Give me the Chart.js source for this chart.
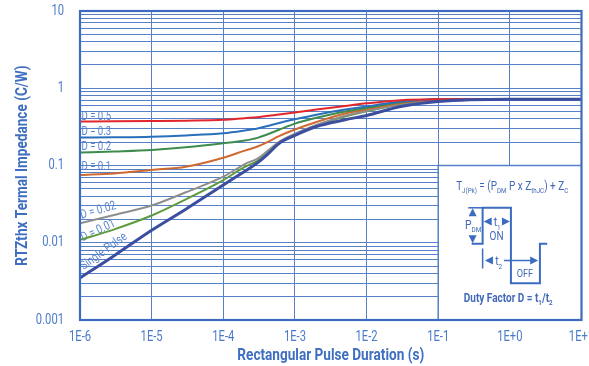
<!DOCTYPE html>
<html><head><meta charset="utf-8">
<script src="https://cdn.jsdelivr.net/npm/chart.js@4.4.0/dist/chart.umd.min.js"></script>
<style>html,body{margin:0;padding:0;background:#fff}</style>
</head><body>
<canvas id="c" width="589" height="366"></canvas>
<script>
// ---- data ----
const pulseDuration = [1e-6, 3e-6, 1e-5, 3e-5, 1e-4, 2e-4, 3e-4, 4e-4, 6e-4, 1e-3, 2e-3, 5e-3, 1e-2, 3e-2, 1e-1, 1, 10];
const seriesNames = ['D = 0.5', 'D = 0.3', 'D = 0.2', 'D = 0.1', 'D = 0.02', 'D = 0.01', 'Single Pulse'];
const d05    = [0.372, 0.373, 0.376, 0.380, 0.390, 0.410, 0.422, 0.437, 0.457, 0.485, 0.530, 0.590, 0.638, 0.700, 0.720, 0.725, 0.725];
const d03    = [0.230, 0.232, 0.236, 0.245, 0.261, 0.284, 0.302, 0.322, 0.355, 0.396, 0.455, 0.530, 0.580, 0.675, 0.720, 0.725, 0.725];
const d02    = [0.147, 0.152, 0.159, 0.172, 0.194, 0.211, 0.228, 0.250, 0.290, 0.348, 0.415, 0.500, 0.555, 0.660, 0.718, 0.725, 0.725];
const d01    = [0.0753, 0.079, 0.0875, 0.0964, 0.126, 0.156, 0.176, 0.198, 0.240, 0.292, 0.365, 0.470, 0.535, 0.645, 0.715, 0.725, 0.725];
const d002   = [0.0179, 0.0229, 0.0303, 0.045, 0.0716, 0.1045, 0.123, 0.150, 0.203, 0.258, 0.335, 0.440, 0.510, 0.620, 0.710, 0.725, 0.725];
const d001   = [0.0109, 0.0149, 0.0225, 0.0365, 0.0648, 0.0957, 0.115, 0.142, 0.198, 0.253, 0.330, 0.430, 0.505, 0.615, 0.710, 0.725, 0.725];
const single = [0.0035, 0.0068, 0.0145, 0.0272, 0.056, 0.0845, 0.108, 0.135, 0.193, 0.246, 0.320, 0.390, 0.445, 0.580, 0.675, 0.722, 0.722];
const xTickValues = [1e-6, 1e-5, 1e-4, 1e-3, 1e-2, 1e-1, 1, 10];
const xTickLabels = ['1E-6', '1E-5', '1E-4', '1E-3', '1E-2', '1E-1', '1E+0', '1E+1'];
const yTickValues = [0.001, 0.01, 0.1, 1, 10];
const yTickLabels = ['0.001', '0.01', '0.1', '1', '10'];

const FONT = "Roboto, 'Liberation Sans', sans-serif";
const K = 0.8; // horizontal text compression (reference uses a condensed typeface)

const TXT = '#4a7bc8';
const GRID = '#5680c8';
const colors = ['#e3262c', '#2a6fbb', '#3d8b4d', '#d0692f', '#8e8e8e', '#5d9b3c', '#3c4ea0'];
const widths = [2, 2, 2, 2, 2, 2, 3];
const allSeries = [d05, d03, d02, d01, d002, d001, single];

const datasets = allSeries.map((arr, i) => ({
  label: seriesNames[i],
  data: arr.map((v, j) => ({x: pulseDuration[j], y: v})),
  borderColor: colors[i],
  borderWidth: widths[i],
  pointRadius: 0,
  fill: false,
  cubicInterpolationMode: 'monotone',
  order: i === 6 ? 0 : i + 1
}));

// condensed text rendering on the chart canvas
const canvas = document.getElementById('c');
const cctx = canvas.getContext('2d');
const origFill = cctx.fillText.bind(cctx);
cctx.fillText = function (t, x, y) {
  this.save(); this.translate(x, y); this.scale(K, 1); origFill(t, 0, 0); this.restore();
};

function sameVal(a, b) { return Math.abs(Math.log10(a) - Math.log10(b)) < 1e-6; }
function fnt(size, bold) { return (bold ? 'bold ' : '') + size + 'px ' + FONT; }

function drawRich(ctx, parts, cx, baseY, size, bold, color) {
  let total = 0;
  parts.forEach(p => { ctx.font = fnt(p[1] ? size * 0.62 : size, bold); total += ctx.measureText(p[0]).width * K; });
  let x = cx - total / 2;
  ctx.fillStyle = color; ctx.textAlign = 'left'; ctx.textBaseline = 'alphabetic';
  parts.forEach(p => {
    ctx.font = fnt(p[1] ? size * 0.62 : size, bold);
    ctx.fillText(p[0], x, baseY + (p[1] ? size * 0.28 : 0));
    x += ctx.measureText(p[0]).width * K;
  });
}
function tri(ctx, ax, ay, dir, len, half) {
  ctx.beginPath();
  if (dir === 'up') { ctx.moveTo(ax, ay); ctx.lineTo(ax - half, ay + len); ctx.lineTo(ax + half, ay + len); }
  if (dir === 'down') { ctx.moveTo(ax, ay); ctx.lineTo(ax - half, ay - len); ctx.lineTo(ax + half, ay - len); }
  if (dir === 'left') { ctx.moveTo(ax, ay); ctx.lineTo(ax + len, ay - half); ctx.lineTo(ax + len, ay + half); }
  if (dir === 'right') { ctx.moveTo(ax, ay); ctx.lineTo(ax - len, ay - half); ctx.lineTo(ax - len, ay + half); }
  ctx.closePath(); ctx.fill();
}

const curveLabelPos = [
  {x: 1.05e-6, y: 0.43, rot: 0, align: 'left', size: 12},
  {x: 1.05e-6, y: 0.27, rot: 0, align: 'left', size: 12},
  {x: 1.05e-6, y: 0.175, rot: 0, align: 'left', size: 12},
  {x: 1.05e-6, y: 0.095, rot: 0, align: 'left', size: 12},
  {x: 1.8e-6, y: 0.026, rot: -16, align: 'center', size: 12.5},
  {x: 1.8e-6, y: 0.0143, rot: -25, align: 'center', size: 12.5},
  {x: 2.15e-6, y: 0.0077, rot: -36, align: 'center', size: 12.5}
];

const decor = {
  id: 'decor',
  beforeDraw(chart) {
    const ctx = chart.ctx, xs = chart.scales.x, ys = chart.scales.y;
    ctx.save();
    ctx.fillStyle = '#5b86cc';
    ctx.textBaseline = 'middle';
    curveLabelPos.forEach((p, i) => {
      const px = xs.getPixelForValue(p.x), py = ys.getPixelForValue(p.y);
      ctx.save();
      ctx.font = fnt(p.size, false);
      ctx.translate(px, py);
      ctx.rotate(p.rot * Math.PI / 180);
      ctx.textAlign = p.align;
      ctx.fillText(seriesNames[i], 0, 0);
      ctx.restore();
    });
    ctx.restore();
  },
  beforeDatasetsDraw(chart) {
    const ctx = chart.ctx, xs = chart.scales.x, ys = chart.scales.y, ca = chart.chartArea;
    const L = xs.getPixelForValue(0.1), T = ys.getPixelForValue(0.1);
    ctx.save();
    ctx.fillStyle = '#fff';
    ctx.fillRect(L, T, ca.right - L, ca.bottom - T);
    ctx.strokeStyle = GRID; ctx.lineWidth = 1.5;
    ctx.beginPath(); ctx.moveTo(L, ca.bottom); ctx.lineTo(L, T); ctx.lineTo(ca.right, T); ctx.stroke();
    const C = '#4169b8';
    drawRich(ctx, [['T'], ['J(Pk)', 1], [' = (P'], ['DM', 1], [' P x Z'], ['thJC', 1], [') + Z'], ['C', 1]], L + 74, T + 24, 12.5, false, C);
    ctx.strokeStyle = '#3a6cc0'; ctx.lineWidth = 2;
    ctx.beginPath();
    ctx.moveTo(L + 33.4, T + 78.3); ctx.lineTo(L + 44.4, T + 78.3); ctx.lineTo(L + 44.4, T + 42.3);
    ctx.lineTo(L + 72.7, T + 42.3); ctx.lineTo(L + 72.7, T + 117.7); ctx.lineTo(L + 101.7, T + 117.7);
    ctx.lineTo(L + 101.7, T + 78.3); ctx.lineTo(L + 109, T + 78.3);
    ctx.stroke();
    ctx.fillStyle = '#3a6cc0'; ctx.lineWidth = 1.5;
    ctx.beginPath(); ctx.moveTo(L + 30, T + 42.3); ctx.lineTo(L + 44.4, T + 42.3); ctx.stroke();
    tri(ctx, L + 34.4, T + 42.8, 'up', 8, 4);
    tri(ctx, L + 34.4, T + 77.8, 'down', 8, 4);
    drawRich(ctx, [['P'], ['DM', 1]], L + 35, T + 63, 13, false, C);
    ctx.fillStyle = '#3a6cc0';
    tri(ctx, L + 45.5, T + 56, 'left', 8, 4);
    tri(ctx, L + 71.7, T + 56, 'right', 8, 4);
    drawRich(ctx, [['t'], ['1', 1]], L + 59, T + 60.5, 13, false, C);
    ctx.font = fnt(12.5, false); ctx.fillStyle = C; ctx.textAlign = 'center'; ctx.textBaseline = 'middle';
    ctx.fillText('ON', L + 58.4, T + 71.5);
    ctx.strokeStyle = '#3a6cc0'; ctx.lineWidth = 1.5; ctx.fillStyle = '#3a6cc0';
    ctx.beginPath(); ctx.moveTo(L + 44.4, T + 83); ctx.lineTo(L + 44.4, T + 103); ctx.stroke();
    tri(ctx, L + 46.7, T + 95, 'left', 8, 4);
    ctx.beginPath(); ctx.moveTo(L + 65.7, T + 95); ctx.lineTo(L + 94, T + 95); ctx.stroke();
    tri(ctx, L + 100, T + 95, 'right', 8, 4);
    drawRich(ctx, [['t'], ['2', 1]], L + 60.5, T + 99.5, 13, false, C);
    ctx.font = fnt(11.5, false); ctx.fillStyle = C; ctx.textAlign = 'center'; ctx.textBaseline = 'middle';
    ctx.fillText('OFF', L + 86.7, T + 108.8);
    drawRich(ctx, [['Duty Factor D = t'], ['1', 1], ['/t'], ['2', 1]], L + 70, T + 136, 12.5, true, C);
    ctx.restore();
  },
  afterDraw(chart) {
    const ctx = chart.ctx, ca = chart.chartArea;
    ctx.save();
    ctx.strokeStyle = '#3d6bbf'; ctx.lineWidth = 2.2;
    ctx.strokeRect(ca.left, ca.top, ca.right - ca.left, ca.bottom - ca.top);
    ctx.restore();
  }
};

const tickFont = {family: FONT, size: 14};
const titleFont = {family: FONT, size: 17, weight: 'bold'};

new Chart(canvas, {
  type: 'line',
  data: {datasets},
  plugins: [decor],
  options: {
    responsive: false,
    animation: false,
    devicePixelRatio: 1,
    layout: {padding: {top: 11, right: 7.5, left: 0, bottom: 0}},
    plugins: {legend: {display: false}, tooltip: {enabled: false}},
    scales: {
      x: {
        type: 'logarithmic', min: 1e-6, max: 10, position: 'bottom',
        afterBuildTicks: s => { s.ticks = xTickValues.map(v => ({value: v})); },
        afterFit: s => { s.height = 46; s.paddingLeft = 0; s.paddingRight = 0; },
        ticks: {autoSkip: false, maxRotation: 0, minRotation: 0, padding: 9, color: TXT, font: tickFont,
          callback: (v) => { const k = xTickValues.findIndex(t => sameVal(t, v)); return k >= 0 ? xTickLabels[k] : ''; }},
        grid: {color: GRID, lineWidth: 1, drawTicks: false},
        border: {display: false},
        title: {display: true, text: 'Rectangular Pulse Duration (s)', color: '#3f6fc0',
          font: titleFont, padding: {top: 0, bottom: 0}}
      },
      y: {
        type: 'logarithmic', min: 0.001, max: 10,
        afterBuildTicks: s => {
          const t = [];
          for (let i = 0; i < yTickValues.length - 1; i++) for (let m = 1; m <= 9; m++) t.push({value: m * yTickValues[i]});
          t.push({value: yTickValues[yTickValues.length - 1]});
          s.ticks = t;
        },
        afterFit: s => { s.width = 80; s.paddingTop = 0; s.paddingBottom = 0; },
        ticks: {autoSkip: false, padding: 16, color: TXT, font: tickFont,
          callback: (v) => { const k = yTickValues.findIndex(t => sameVal(t, v)); return k >= 0 ? yTickLabels[k] : ''; }},
        grid: {color: GRID, lineWidth: 1, drawTicks: false},
        border: {display: false},
        title: {display: true, text: 'RTZthx Termal Impedance (C/W)', color: '#3f6fc0',
          font: titleFont, padding: {top: 13, bottom: 0}}
      }
    }
  }
});
</script>
</body></html>
